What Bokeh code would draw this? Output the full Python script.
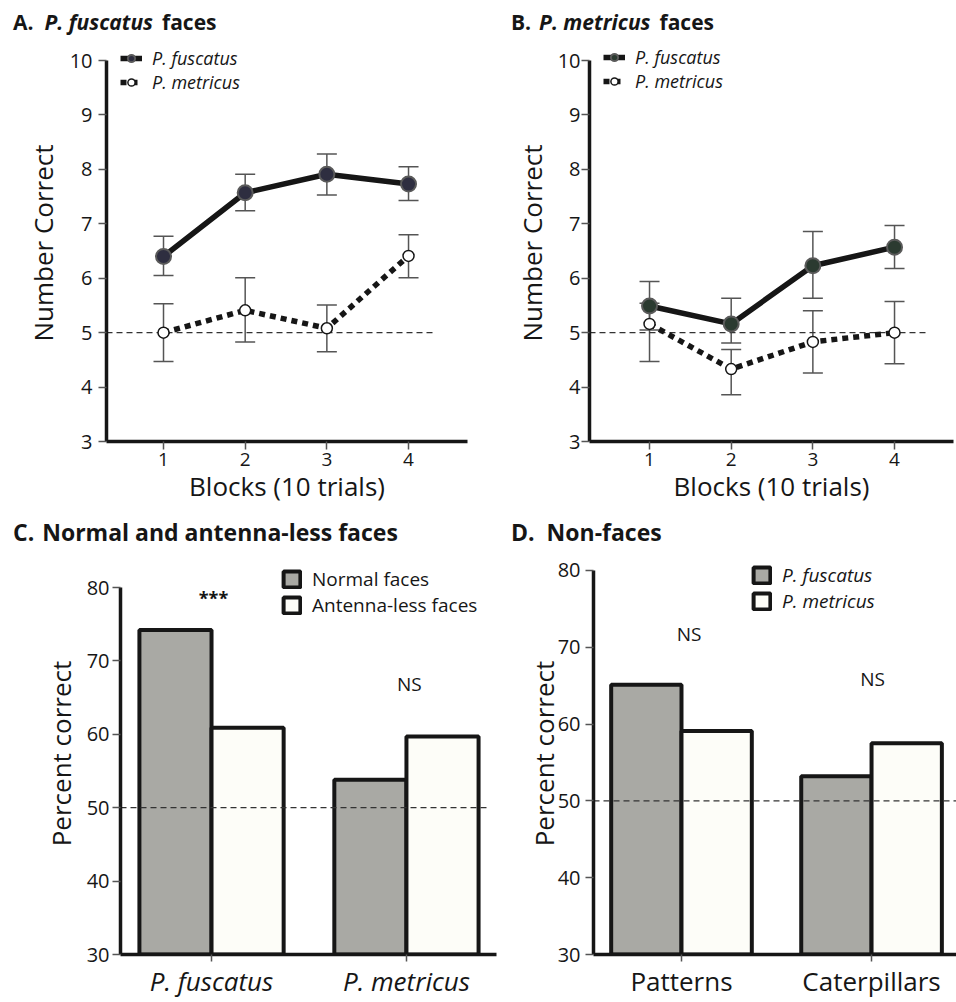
from bokeh.plotting import figure
from bokeh.models import (ColumnDataSource, Range1d, FixedTicker, Whisker, TeeHead,
                          Label, Legend, LegendItem, Div)
from bokeh.transform import dodge
from bokeh.layouts import column, row
from bokeh.embed import file_html
from bokeh.resources import INLINE

FONT = "Open Sans"
INK = "#161616"
ERR = "#555555"
GREY = "#a9a9a4"
WHITE = "#fdfdf8"

# ---- data -------------------------------------------------------------
blocks = [1, 2, 3, 4]

# A. P. fuscatus faces (number correct out of 10, mean and error range)
a_fus_mean = [6.40, 7.57, 7.91, 7.73]
a_fus_lo = [6.05, 7.24, 7.53, 7.43]
a_fus_hi = [6.77, 7.91, 8.28, 8.05]
a_met_mean = [5.00, 5.41, 5.08, 6.41]
a_met_lo = [4.47, 4.83, 4.65, 6.01]
a_met_hi = [5.53, 6.01, 5.51, 6.80]

# B. P. metricus faces
b_fus_mean = [5.49, 5.16, 6.23, 6.57]
b_fus_lo = [5.05, 4.81, 5.63, 6.18]
b_fus_hi = [5.94, 5.63, 6.86, 6.97]
b_met_mean = [5.16, 4.33, 4.83, 5.00]
b_met_lo = [4.47, 3.86, 4.26, 4.43]
b_met_hi = [5.54, 4.69, 5.40, 5.57]

# C. Normal and antenna-less faces (percent correct)
c_categories = ["P. fuscatus", "P. metricus"]
c_normal = [74.2, 53.8]
c_antennaless = [60.9, 59.7]
c_sig = ["***", "NS"]

# D. Non-faces (percent correct)
d_categories = ["Patterns", "Caterpillars"]
d_fuscatus = [65.1, 53.2]
d_metricus = [59.1, 57.5]
d_sig = ["NS", "NS"]

CHANCE_BLOCKS = 5
CHANCE_PCT = 50


# ---- helpers ----------------------------------------------------------
def base_figure(width, height, xr, yr, bounds, left, right, bottom):
    # the frame reaches the top of the figure so that the legend can sit
    # above the last tick; the axis itself is limited by `bounds`
    p = figure(width=width, height=height, x_range=Range1d(*xr), y_range=Range1d(*yr),
               output_backend="svg", toolbar_location=None, title=None,
               min_border_left=left, min_border_right=right,
               min_border_top=0, min_border_bottom=bottom)
    p.xgrid.visible = False
    p.ygrid.visible = False
    p.outline_line_color = None
    p.background_fill_color = "white"
    p.border_fill_color = "white"
    p.yaxis[0].bounds = bounds
    for ax in (p.xaxis[0], p.yaxis[0]):
        ax.axis_line_width = 3.5
        ax.axis_line_color = INK
        ax.major_tick_line_color = ERR
        ax.major_tick_line_width = 1.5
        ax.major_tick_in = 0
        ax.major_tick_out = 8
        ax.minor_tick_line_color = None
        ax.major_label_text_font = FONT
        ax.major_label_text_color = INK
        ax.axis_label_text_font = FONT
        ax.axis_label_text_font_style = "normal"
        ax.axis_label_text_font_size = "26px"
        ax.axis_label_text_color = INK
    return p


def heading(width, height, line_height, size, runs):
    """Panel heading: runs of (left gap px, text, italic)."""
    parts = []
    for gap, text, italic in runs:
        style = f"margin-left:{gap}px;" + ("font-style:italic;" if italic else "")
        parts.append(f'<span style="{style}">{text}</span>')
    html = (f'<div style="font-family:\'{FONT}\';font-size:{size}px;font-weight:bold;'
            f'line-height:{line_height}px;white-space:nowrap;color:{INK};margin:0;padding:0">'
            + "".join(parts) + "</div>")
    return Div(text=html, width=width, height=height, margin=(0, 0, 0, 0))


def line_panel(width, height, xr, y_top, left, right, chance_end, fus, met, fus_fill,
               y_std, ylab_std, legend_loc):
    frame_bottom = 397
    p = base_figure(width, height, xr, (3, y_top), (3, 10), left, right, height - frame_bottom)
    p.xaxis[0].ticker = FixedTicker(ticks=blocks)
    p.yaxis[0].ticker = FixedTicker(ticks=list(range(3, 11)))
    p.xaxis[0].major_label_text_font_size = "19px"
    p.yaxis[0].major_label_text_font_size = "20px"
    p.xaxis[0].major_label_standoff = 3
    p.xaxis[0].axis_label_standoff = -1
    p.yaxis[0].major_label_standoff = y_std
    p.yaxis[0].axis_label_standoff = ylab_std
    p.xaxis[0].axis_label = "Blocks (10 trials)"
    p.yaxis[0].axis_label = "Number Correct"

    src_f = ColumnDataSource(dict(x=blocks, mean=fus[0], lo=fus[1], hi=fus[2]))
    src_m = ColumnDataSource(dict(x=blocks, mean=met[0], lo=met[1], hi=met[2]))

    for src in (src_m, src_f):
        p.add_layout(Whisker(source=src, base="x", upper="hi", lower="lo",
                             line_color=ERR, line_width=1.5,
                             upper_head=TeeHead(size=20, line_color=ERR, line_width=1.5),
                             lower_head=TeeHead(size=20, line_color=ERR, line_width=1.5)))

    p.segment(x0=[xr[0]], y0=[CHANCE_BLOCKS], x1=[chance_end], y1=[CHANCE_BLOCKS],
              line_color="#333333", line_width=1.3, line_dash="6 4")

    l_m = p.line("x", "mean", source=src_m, line_color=INK, line_width=5.5, line_dash="6 5")
    l_f = p.line("x", "mean", source=src_f, line_color=INK, line_width=5.5)
    s_m = p.scatter("x", "mean", source=src_m, marker="circle", size=11,
                    fill_color="white", line_color=INK, line_width=1.5)
    s_f = p.scatter("x", "mean", source=src_f, marker="circle", size=15,
                    fill_color=fus_fill, line_color="#5a5a5a", line_width=2)

    legend = Legend(items=[LegendItem(label="P. fuscatus", renderers=[l_f, s_f]),
                           LegendItem(label="P. metricus", renderers=[l_m, s_m])],
                    location=legend_loc, orientation="vertical",
                    label_text_font=FONT, label_text_font_size="18px",
                    label_text_font_style="italic", label_text_color=INK,
                    label_text_line_height=1.0,
                    glyph_width=22, glyph_height=18, label_height=18,
                    label_standoff=10, spacing=0, padding=0, margin=0,
                    border_line_color=None, background_fill_alpha=0)
    p.add_layout(legend)
    return p


def bar_panel(width, height, frame_bottom, xr, y_top, left, right, categories,
              vals_a, vals_b, labels, italic_legend, italic_ticks, sig, sig_pos,
              y_std, ylab_std, legend_loc, chance_end):
    p = base_figure(width, height, xr, (30, y_top), (30, 80), left, right,
                    height - frame_bottom)
    xs = [i + 1 for i in range(len(categories))]
    p.xaxis[0].ticker = FixedTicker(ticks=xs)
    p.xaxis[0].major_label_overrides = {x: c for x, c in zip(xs, categories)}
    p.xaxis[0].major_label_text_font_size = "26px"
    p.xaxis[0].major_label_standoff = 1
    p.xaxis[0].major_tick_out = 7
    if italic_ticks:
        p.xaxis[0].major_label_text_font_style = "italic"
    p.yaxis[0].ticker = FixedTicker(ticks=list(range(30, 81, 10)))
    p.yaxis[0].major_label_text_font_size = "20px"
    p.yaxis[0].major_label_standoff = y_std
    p.yaxis[0].major_tick_out = 8
    p.yaxis[0].axis_label = "Percent correct"
    p.yaxis[0].axis_label_standoff = ylab_std

    src = ColumnDataSource(dict(x=xs, a=vals_a, b=vals_b))
    r_a = p.vbar(x=dodge("x", -0.185, range=p.x_range), top="a", bottom=30, width=0.37,
                 source=src, fill_color=GREY, line_color=INK, line_width=4)
    r_b = p.vbar(x=dodge("x", 0.185, range=p.x_range), top="b", bottom=30, width=0.37,
                 source=src, fill_color=WHITE, line_color=INK, line_width=4)

    p.segment(x0=[xr[0]], y0=[CHANCE_PCT], x1=[chance_end], y1=[CHANCE_PCT],
              line_color="#333333", line_width=1.3, line_dash="6 4")

    for (sx, sy), text in zip(sig_pos, sig):
        stars = text.startswith("*")
        p.add_layout(Label(x=sx, y=sy, text=text, text_font=FONT,
                           text_font_size="18px" if stars else "19px",
                           text_font_style="bold" if stars else "normal",
                           text_color=INK, text_align="center", text_baseline="middle"))

    legend = Legend(items=[LegendItem(label=labels[0], renderers=[r_a]),
                           LegendItem(label=labels[1], renderers=[r_b])],
                    location=legend_loc, orientation="vertical",
                    label_text_font=FONT, label_text_font_size="19px",
                    label_text_font_style="italic" if italic_legend else "normal",
                    label_text_color=INK,
                    glyph_width=21, glyph_height=20, label_height=20,
                    label_standoff=10, spacing=0, padding=0, margin=0,
                    border_line_color=None, background_fill_alpha=0)
    p.add_layout(legend)
    return p


# ---- panels -----------------------------------------------------------
hA = heading(478, 44, 45, 21, [(13, "A.", False), (11, "P. fuscatus", True), (9, "faces", False)])
hB = heading(478, 44, 45, 21, [(33, "B.", False), (8, "P. metricus", True), (9, "faces", False)])

pA = line_panel(478, 472, (0.302, 4.722), 10.294, 106, 11, 4.33,
                (a_fus_mean, a_fus_lo, a_fus_hi), (a_met_mean, a_met_lo, a_met_hi),
                "#2e2e40", 6, 6, (14, 347))

pB = line_panel(478, 472, (0.265, 4.722), 10.294, 111, 3, 4.39,
                (b_fus_mean, b_fus_lo, b_fus_hi), (b_met_mean, b_met_lo, b_met_hi),
                "#2b3a30", 1, 5, (14, 348))

hC = heading(500, 36, 33, 23, [(13, "C.", False), (8, "Normal and antenna-less faces", False)])
hD = heading(456, 36, 33, 23, [(11, "D.", False), (12, "Non-faces", False)])

pC = bar_panel(500, 450, 402, (0.533, 2.462), 84.77, 120, 4, c_categories,
               c_normal, c_antennaless, ["Normal faces", "Antenna-less faces"],
               False, True, c_sig, [(1.01, 78.6), (2.015, 66.9)], 3, 5, (161, 336), 2.42)

pD = bar_panel(456, 450, 404, (0.537, 2.447), 82.33, 93, 0, d_categories,
               d_fuscatus, d_metricus, ["P. fuscatus", "P. metricus"],
               True, False, d_sig, [(1.04, 71.7), (2.005, 65.8)], 5, -7, (158, 340), 2.447)

layout = column(row(hA, hB), row(pA, pB), row(hC, hD), row(pC, pD))

with open("out.html", "w") as f:
    f.write(file_html(layout, INLINE))
